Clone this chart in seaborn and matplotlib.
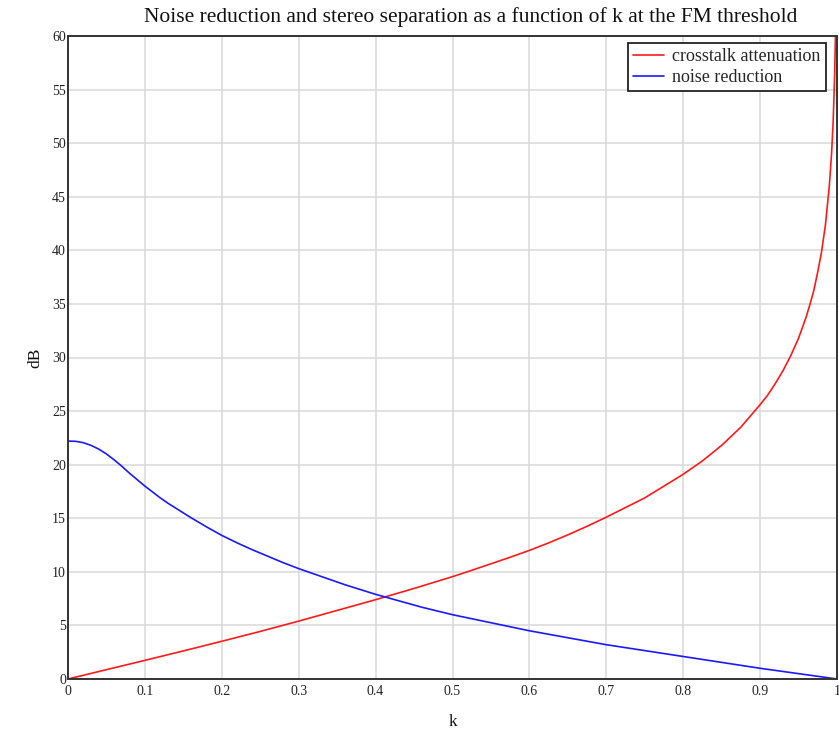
import matplotlib
matplotlib.use("Agg")
import matplotlib.pyplot as plt
import seaborn as sns
import pandas as pd

# Crosstalk attenuation (dB) versus k
k_crosstalk = [0.0, 0.05, 0.1, 0.15, 0.2, 0.25, 0.3, 0.35, 0.4, 0.45, 0.5, 0.525,
               0.55, 0.575, 0.6, 0.625, 0.65, 0.675, 0.7, 0.725, 0.75, 0.775,
               0.8, 0.825, 0.85, 0.875, 0.9, 0.91, 0.92, 0.93, 0.94, 0.95,
               0.955, 0.96, 0.965, 0.97, 0.975, 0.98, 0.985, 0.99, 0.993,
               0.995, 0.997, 0.998]
crosstalk_db = [0.0, 0.87, 1.74, 2.62, 3.52, 4.44, 5.4, 6.4, 7.4, 8.45, 9.55, 10.14,
                10.75, 11.36, 12.0, 12.7, 13.45, 14.25, 15.1, 16.0, 16.9, 18.0,
                19.1, 20.35, 21.8, 23.5, 25.6, 26.5, 27.6, 28.8, 30.2, 31.8,
                32.8, 33.8, 35.0, 36.3, 38.0, 39.9, 42.4, 46.0, 49.1,
                52.0, 56.5, 60.0]

# Noise reduction (dB) versus k
k_noise = [0.0, 0.01, 0.02, 0.03, 0.04, 0.05, 0.06, 0.07, 0.08, 0.09, 0.1,
           0.11, 0.12, 0.13, 0.14, 0.15, 0.16, 0.18, 0.2, 0.22, 0.24,
           0.26, 0.28, 0.3, 0.32, 0.34, 0.36, 0.38, 0.4, 0.42, 0.44, 0.46,
           0.48, 0.5, 0.55, 0.6, 0.65, 0.7, 0.75, 0.8, 0.85, 0.9, 0.95, 1.0]
noise_db = [22.2, 22.18, 22.05, 21.8, 21.45, 21.0, 20.45, 19.85, 19.2, 18.6, 18.0,
            17.45, 16.9, 16.4, 15.95, 15.5, 15.05, 14.2, 13.4, 12.7, 12.05,
            11.45, 10.85, 10.3, 9.8, 9.3, 8.8, 8.35, 7.9, 7.5, 7.1, 6.7,
            6.35, 6.0, 5.25, 4.5, 3.85, 3.2, 2.65, 2.1, 1.55, 1.0, 0.5, 0.0]

x_ticks = [0, 0.1, 0.2, 0.3, 0.4, 0.5, 0.6, 0.7, 0.8, 0.9, 1]
x_tick_labels = ["0", "0.1", "0.2", "0.3", "0.4", "0.5", "0.6", "0.7", "0.8", "0.9", "1"]
y_ticks = list(range(0, 61, 5))

sns.set_theme(style="whitegrid")
plt.rcParams["font.family"] = ["Liberation Serif", "DejaVu Serif"]

fig = plt.figure(figsize=(8.39, 7.36), dpi=100)
ax = fig.add_axes([68 / 839, 57 / 736, 769 / 839, 643 / 736])

ct = pd.DataFrame({"k": k_crosstalk, "dB": crosstalk_db})
nr = pd.DataFrame({"k": k_noise, "dB": noise_db})
sns.lineplot(data=ct, x="k", y="dB", ax=ax, color="#ff1a1a", linewidth=1.2,
             label="crosstalk attenuation")
sns.lineplot(data=nr, x="k", y="dB", ax=ax, color="#1a1aff", linewidth=1.2,
             label="noise reduction")

ax.set_xlim(0, 1)
ax.set_ylim(0, 60)
ax.set_xticks(x_ticks)
ax.set_xticklabels(x_tick_labels)
ax.set_yticks(y_ticks)
ax.tick_params(axis="both", length=0, labelsize=10, colors="#222222")
ax.tick_params(axis="x", pad=4)
ax.tick_params(axis="y", pad=1.5)

ax.grid(True, color="#d8d8d8", linewidth=1.1)
for s in ax.spines.values():
    s.set_visible(True)
    s.set_color("#333333")
    s.set_linewidth(1.4)

ax.set_xlabel("k", fontsize=12.5, labelpad=12, color="#111111")
ax.set_ylabel("dB", fontsize=12.5, labelpad=6, color="#111111")
ax.set_title("Noise reduction and stereo separation as a function of k at the FM threshold",
             fontsize=15.5, pad=10, x=0.524, color="#111111")

leg = ax.legend(loc="upper right", bbox_to_anchor=(1 - 11 / 769, 1 - 7 / 643),
                borderaxespad=0, fontsize=13, frameon=True, fancybox=False,
                edgecolor="#222222", framealpha=1, handlelength=1.7,
                handletextpad=0.45, borderpad=0.3, labelspacing=0.2)
leg.get_frame().set_linewidth(1.3)

fig.savefig("out.png", dpi=100, facecolor="white")
